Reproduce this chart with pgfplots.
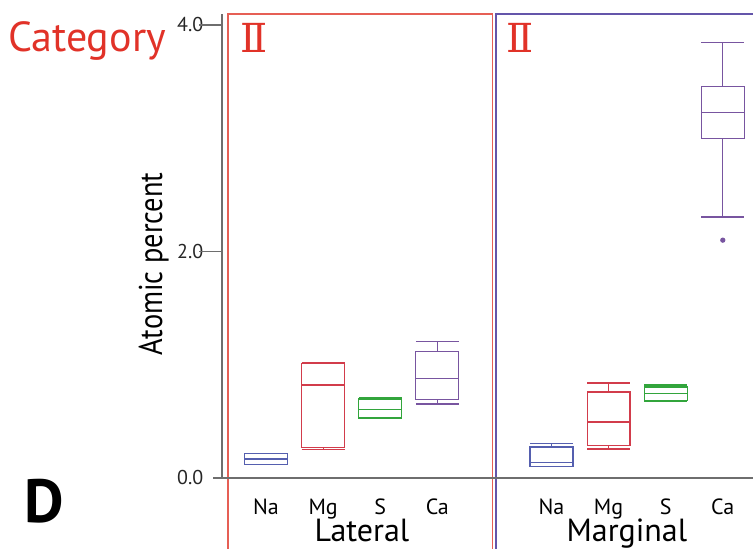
\documentclass[border=0pt]{standalone}
\usepackage{pgfplots}
\pgfplotsset{compat=1.18}
\usepgfplotslibrary{statistics}
\usepackage{fontspec}
\setmainfont{PT Sans}
\newfontfamily\romfont{DejaVu Serif}
\definecolor{cNa}{RGB}{85,95,175}
\definecolor{cMg}{RGB}{210,60,75}
\definecolor{cS}{RGB}{50,165,60}
\definecolor{cCa}{RGB}{120,85,160}
\definecolor{cRed}{RGB}{225,50,40}
\definecolor{fRed}{RGB}{230,95,85}
\definecolor{fPur}{RGB}{100,85,170}
\definecolor{axgrey}{RGB}{110,110,110}
\begin{document}
\begin{tikzpicture}
\useasboundingbox (0,0) rectangle (753pt,549pt);
\clip (0,0) rectangle (753pt,549pt);
\begin{axis}[
  at={(222pt,71pt)}, anchor=south west,
  scale only axis, width=531pt, height=478pt,
  xmin=0.229, xmax=9.529, ymin=0, ymax=4.2208,
  clip=false,
  axis line style={draw=none},
  ytick={0,2,4}, yticklabels={0.0,2.0,4.0},
  xtick={1,2,3,4,6,7,8,9}, xticklabels={Na,Mg,S,Ca,Na,Mg,S,Ca},
  x tick style={draw=none},
  y tick style={draw=none},
  tick align=outside, major tick length=11pt,
  yticklabel style={font=\fontsize{20}{20}\selectfont, text=black!85, inner sep=0.5pt, xshift=-7pt},
  xticklabel style={font=\fontsize{22}{22}\selectfont, anchor=base, yshift=-25pt},
  boxplot/draw direction=y,
]
% frames
\draw[fRed, line width=1.3pt] (axis cs:0.334,-0.7) rectangle (axis cs:4.97,4.097);
\draw[fPur, line width=1.3pt] (axis cs:5.03,-0.7) rectangle (axis cs:9.8,4.097);
\draw[axgrey, line width=1.7pt] (axis cs:0.229,0) -- (axis cs:0.229,4.097);
\draw[axgrey, line width=1.5pt] (axis cs:0.072,0) -- (axis cs:9.6,0);
\draw[axgrey, line width=1.1pt] (axis cs:0.229,2) -- ++(-10pt,0);
\draw[axgrey, line width=1.1pt] (axis cs:0.229,4) -- ++(-10pt,0);
% Lateral
\addplot[cNa, line width=1.2pt, boxplot prepared={draw position=1, lower whisker=0.121, lower quartile=0.121, median=0.168, upper quartile=0.218, upper whisker=0.218, box extend=0.75, whisker extend=0.75}] coordinates {};
\addplot[cMg, line width=1.2pt, boxplot prepared={draw position=2, lower whisker=0.255, lower quartile=0.27, median=0.821, upper quartile=1.01, upper whisker=1.02, box extend=0.75, whisker extend=0.75}] coordinates {};
\addplot[cS, line width=1.2pt, boxplot prepared={draw position=3, lower whisker=0.524, lower quartile=0.53, median=0.606, upper quartile=0.698, upper whisker=0.709, box extend=0.75, whisker extend=0.75}] coordinates {};
\addplot[cCa, line width=1.2pt, boxplot prepared={draw position=4, lower whisker=0.653, lower quartile=0.695, median=0.880, upper quartile=1.115, upper whisker=1.207, box extend=0.75, whisker extend=0.75}] coordinates {};
% Marginal
\addplot[cNa, line width=1.2pt, boxplot prepared={draw position=6, lower whisker=0.10, lower quartile=0.10, median=0.139, upper quartile=0.274, upper whisker=0.303, box extend=0.75, whisker extend=0.75}] coordinates {};
\addplot[cMg, line width=1.2pt, boxplot prepared={draw position=7, lower whisker=0.256, lower quartile=0.285, median=0.494, upper quartile=0.759, upper whisker=0.839, box extend=0.75, whisker extend=0.75}] coordinates {};
\addplot[cS, line width=1.2pt, boxplot prepared={draw position=8, lower whisker=0.68, lower quartile=0.686, median=0.748, upper quartile=0.804, upper whisker=0.821, box extend=0.75, whisker extend=0.75}] coordinates {};
\addplot[cCa, line width=1.2pt, mark=*, mark size=2pt, mark options={fill=cCa}, boxplot prepared={draw position=9, lower whisker=2.305, lower quartile=2.997, median=3.229, upper quartile=3.455, upper whisker=3.844, box extend=0.75, whisker extend=0.75}] table[row sep=\\, y index=0] {2.10\\};
% labels
\node[text=cRed, font=\romfont\fontsize{40}{40}\selectfont] at (axis cs:0.790,3.89) {Ⅱ};
\node[text=cRed, font=\romfont\fontsize{40}{40}\selectfont] at (axis cs:5.45,3.89) {Ⅱ};
\node[anchor=base, font=\fontsize{32}{32}\selectfont] at (axis cs:2.681,-0.562) {Lateral};
\node[anchor=base, font=\fontsize{32}{32}\selectfont] at (axis cs:7.32,-0.562) {Marginal};
\end{axis}
\node[anchor=base west, inner sep=0pt, text=cRed, font=\fontsize{42}{42}\selectfont] at (8pt,497pt) {Category};
\node[anchor=base west, inner sep=0pt, font=\bfseries\fontsize{61}{61}\selectfont] at (24pt,26pt) {D};
\node[anchor=base, inner sep=0pt, rotate=90, font=\fontsize{33}{33}\selectfont] at (162pt,285pt) {\scalebox{0.86}[1]{Atomic percent}};
\end{tikzpicture}
\end{document}
